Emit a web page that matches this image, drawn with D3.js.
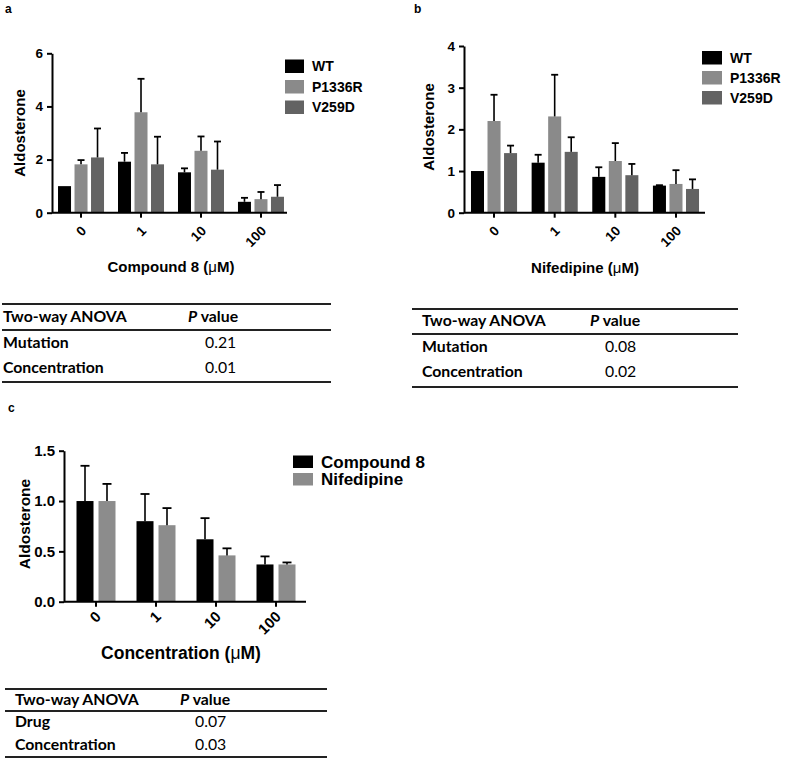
<!DOCTYPE html>
<html><head><meta charset="utf-8">
<script src="https://cdn.jsdelivr.net/npm/d3@7"></script>
<style>
body{margin:0;background:#fff;}
svg text{fill:#000;}
</style></head>
<body>
<svg id="fig" width="787" height="760"></svg>
<script>
// ---------- DATA ----------
const concCats = ["0", "1", "10", "100"];

// Panel a: Compound 8
const seriesA = ["WT", "P1336R", "V259D"];
const aWT = [1.0, 1.92, 1.52, 0.41];
const aWTErr = [0, 0.33, 0.15, 0.15];
const aP1336R = [1.82, 3.78, 2.33, 0.51];
const aP1336RErr = [0.16, 1.26, 0.54, 0.27];
const aV259D = [2.08, 1.82, 1.62, 0.60];
const aV259DErr = [1.09, 1.04, 1.06, 0.44];
const aTicks = [0, 2, 4, 6];

// Panel b: Nifedipine
const seriesB = ["WT", "P1336R", "V259D"];
const bWT = [1.0, 1.2, 0.86, 0.65];
const bWTErr = [0, 0.19, 0.23, 0.01];
const bP1336R = [2.2, 2.31, 1.24, 0.69];
const bP1336RErr = [0.63, 1.0, 0.43, 0.33];
const bV259D = [1.43, 1.46, 0.9, 0.57];
const bV259DErr = [0.18, 0.35, 0.27, 0.23];
const bTicks = [0, 1, 2, 3, 4];

// Panel c: drug comparison
const seriesC = ["Compound 8", "Nifedipine"];
const cCompound8 = [1.0, 0.8, 0.62, 0.37];
const cCompound8Err = [0.35, 0.27, 0.21, 0.08];
const cNifedipine = [1.0, 0.76, 0.46, 0.37];
const cNifedipineErr = [0.17, 0.17, 0.07, 0.02];
const cTicks = [0, 0.5, 1.0, 1.5];

// Tables
const tableHeader = ["Two-way ANOVA", "value"];
const tableARows = ["Mutation", "Concentration"];
const tableAVals = ["0.21", "0.01"];
const tableBRows = ["Mutation", "Concentration"];
const tableBVals = ["0.08", "0.02"];
const tableCRows = ["Drug", "Concentration"];
const tableCVals = ["0.07", "0.03"];

// ---------- DRAWING ----------
const svg = d3.select("#fig");
const FONT = "'Liberation Sans', Arial, sans-serif";
const TFONT = "Lato, 'Open Sans', sans-serif";

function panel(cfg) {
  const g = svg.append("g");
  const y = d3.scaleLinear().domain(cfg.yDomain).range([cfg.y0, cfg.y1]);
  const x0 = d3.scaleBand().domain(concCats).range(cfg.xRange)
    .paddingInner(cfg.padIn).paddingOuter(cfg.padOut);
  const x1 = d3.scaleBand().domain(cfg.series).range([0, x0.bandwidth()]).paddingInner(cfg.subPad);
  const color = d3.scaleOrdinal().domain(cfg.series).range(cfg.colors);

  // bars
  cfg.series.forEach((s, si) => {
    const vals = cfg.values[si], errs = cfg.errors[si];
    const gg = g.append("g");
    gg.selectAll("rect").data(concCats).join("rect")
      .attr("x", c => x0(c) + x1(s))
      .attr("y", (c, i) => y(vals[i]))
      .attr("width", x1.bandwidth())
      .attr("height", (c, i) => y(0) - y(vals[i]))
      .attr("fill", color(s));
    // error bars (upper only)
    const eb = concCats.map((c, i) => ({c, v: vals[i], e: errs[i]})).filter(d => d.e > 0);
    gg.selectAll("line.v").data(eb).join("line").attr("class", "v")
      .attr("x1", d => x0(d.c) + x1(s) + x1.bandwidth() / 2)
      .attr("x2", d => x0(d.c) + x1(s) + x1.bandwidth() / 2)
      .attr("y1", d => y(d.v)).attr("y2", d => y(d.v + d.e))
      .attr("stroke", "#000").attr("stroke-width", 1.6);
    gg.selectAll("line.h").data(eb).join("line").attr("class", "h")
      .attr("x1", d => x0(d.c) + x1(s) + x1.bandwidth() / 2 - cfg.cap)
      .attr("x2", d => x0(d.c) + x1(s) + x1.bandwidth() / 2 + cfg.cap)
      .attr("y1", d => y(d.v + d.e)).attr("y2", d => y(d.v + d.e))
      .attr("stroke", "#000").attr("stroke-width", 1.8);
  });

  // y axis
  const ya = g.append("g").attr("transform", `translate(${cfg.xAxis},0)`)
    .call(d3.axisLeft(y).tickValues(cfg.ticks).tickSize(5).tickSizeOuter(0).tickFormat(cfg.fmt));
  ya.select(".domain").attr("stroke", "#000").attr("stroke-width", 2);
  ya.selectAll(".tick line").attr("stroke", "#000").attr("stroke-width", 2);
  ya.selectAll(".tick text").attr("font-family", FONT).attr("font-weight", "bold")
    .attr("font-size", cfg.tickFs).attr("fill", "#000").attr("dx", "-1");

  // x axis
  const xa = g.append("g").attr("transform", `translate(0,${cfg.y0})`)
    .call(d3.axisBottom(x0).tickSize(5).tickSizeOuter(0));
  xa.select(".domain").attr("d", `M${cfg.xAxis},0H${cfg.xEnd}`).attr("stroke", "#000").attr("stroke-width", 2);
  xa.selectAll(".tick line").attr("stroke", "#000").attr("stroke-width", 2);
  xa.selectAll(".tick text").attr("font-family", FONT).attr("font-weight", "bold")
    .attr("font-size", cfg.xTickFs).attr("fill", "#000")
    .attr("text-anchor", "end").attr("dy", null).attr("y", 0)
    .attr("transform", `translate(${cfg.xLblOff[0]},${cfg.xLblOff[1]}) rotate(-45)`);

  // titles
  g.append("text").attr("transform", `translate(${cfg.yTitle[0]},${cfg.yTitle[1]}) rotate(-90)`)
    .attr("text-anchor", "middle").attr("font-family", FONT).attr("font-weight", "bold")
    .attr("font-size", cfg.yTitleFs).text("Aldosterone");
  const xt = g.append("text").attr("x", cfg.xTitle[0]).attr("y", cfg.xTitle[1])
    .attr("text-anchor", "middle").attr("font-family", FONT).attr("font-weight", "bold")
    .attr("font-size", cfg.titleFs);
  xt.append("tspan").text(cfg.xLabel + " (");
  xt.append("tspan").attr("font-weight", "normal").text("μ");
  xt.append("tspan").text("M)");

  // panel letter
  g.append("text").attr("x", cfg.letter[0]).attr("y", cfg.letter[1])
    .attr("font-family", FONT).attr("font-weight", "bold").attr("font-size", 12).text(cfg.letterText);

  // legend
  const lg = g.append("g");
  cfg.series.forEach((s, i) => {
    lg.append("rect").attr("x", cfg.leg[0]).attr("y", cfg.leg[1] + i * cfg.legStep)
      .attr("width", cfg.legW).attr("height", cfg.legH).attr("fill", color(s));
    lg.append("text").attr("x", cfg.leg[0] + cfg.legW + 8)
      .attr("y", cfg.leg[1] + i * cfg.legStep + cfg.legH / 2)
      .attr("dy", "0.36em").attr("font-family", FONT).attr("font-weight", "bold")
      .attr("font-size", cfg.legFs).text(s);
  });
}

function table(cfg) {
  const g = svg.append("g");
  const rowsY = [cfg.top, cfg.hdrLine, cfg.bottom];
  g.selectAll("line").data(rowsY).join("line")
    .attr("x1", cfg.x0).attr("x2", cfg.x1).attr("y1", d => d).attr("y2", d => d)
    .attr("stroke", "#222").attr("stroke-width", 1.8);
  g.append("text").attr("x", cfg.tx).attr("y", cfg.hdrY).attr("font-family", TFONT)
    .attr("font-weight", "bold").attr("font-size", cfg.fs).text(tableHeader[0]);
  const ph = g.append("text").attr("x", cfg.px).attr("y", cfg.hdrY).attr("font-family", TFONT)
    .attr("font-weight", "bold").attr("font-size", cfg.fs);
  ph.append("tspan").attr("font-style", "italic").text("P");
  ph.append("tspan").text(" " + tableHeader[1]);
  cfg.rows.forEach((r, i) => {
    g.append("text").attr("x", cfg.tx).attr("y", cfg.rowY[i]).attr("font-family", TFONT)
      .attr("font-weight", "bold").attr("font-size", cfg.fs).text(r);
    g.append("text").attr("x", cfg.vx).attr("y", cfg.rowY[i]).attr("font-family", TFONT)
      .attr("font-size", cfg.fs).text(cfg.vals[i]);
  });
}

panel({
  series: seriesA, values: [aWT, aP1336R, aV259D], errors: [aWTErr, aP1336RErr, aV259DErr],
  colors: ["#000000", "#8a8a8a", "#636363"],
  yDomain: [0, 6], ticks: aTicks, fmt: d3.format("d"), y0: 212.7, y1: 53.3,
  xRange: [51, 291], padIn: 0.233, padOut: 0.117, subPad: 0.212, xAxis: 52, xEnd: 287, cap: 3.5,
  tickFs: 13.5, xTickFs: 13.5, xLblOff: [6, 19], titleFs: 15, yTitleFs: 15,
  yTitle: [25, 133], xTitle: [171, 272], xLabel: "Compound 8",
  letter: [5, 13], letterText: "a",
  leg: [285, 59.5], legStep: 20.5, legW: 19, legH: 13.5, legFs: 14
});

panel({
  series: seriesB, values: [bWT, bP1336R, bV259D], errors: [bWTErr, bP1336RErr, bV259DErr],
  colors: ["#000000", "#8a8a8a", "#636363"],
  yDomain: [0, 4], ticks: bTicks, fmt: d3.format("d"), y0: 212.7, y1: 46,
  xRange: [463.7, 706.3], padIn: 0.24, padOut: 0.12, subPad: 0.212, xAxis: 464, xEnd: 705, cap: 3.5,
  tickFs: 13.5, xTickFs: 13.5, xLblOff: [6, 19], titleFs: 15, yTitleFs: 15,
  yTitle: [434, 127], xTitle: [585, 273], xLabel: "Nifedipine",
  letter: [414, 13], letterText: "b",
  leg: [702, 51], legStep: 20, legW: 20, legH: 13.5, legFs: 14
});

panel({
  series: seriesC, values: [cCompound8, cNifedipine], errors: [cCompound8Err, cNifedipineErr],
  colors: ["#000000", "#8c8c8c"],
  yDomain: [0, 1.5], ticks: cTicks, fmt: d3.format(".1f"), y0: 601.7, y1: 450.7,
  xRange: [66, 306], padIn: 0.35, padOut: 0.175, subPad: 0.227, xAxis: 64, xEnd: 306, cap: 4.5,
  tickFs: 15, xTickFs: 15, xLblOff: [6, 16], titleFs: 17.5, yTitleFs: 15.5,
  yTitle: [30, 524], xTitle: [181, 659], xLabel: "Concentration",
  letter: [8, 412], letterText: "c",
  leg: [293, 455.5], legStep: 17.5, legW: 20, legH: 12.5, legFs: 17
});

table({x0: 2, x1: 331, top: 304, hdrLine: 330, bottom: 382, tx: 3, px: 188, vx: 205,
  hdrY: 322, rowY: [348, 373], rows: tableARows, vals: tableAVals, fs: 15.8});
table({x0: 412, x1: 738, top: 309, hdrLine: 334, bottom: 387, tx: 422, px: 590, vx: 605,
  hdrY: 326, rowY: [352, 377], rows: tableBRows, vals: tableBVals, fs: 15.8});
table({x0: 5, x1: 327, top: 689, hdrLine: 711, bottom: 757, tx: 15, px: 180, vx: 195,
  hdrY: 705, rowY: [727, 750], rows: tableCRows, vals: tableCVals, fs: 15.8});
</script>
</body></html>
